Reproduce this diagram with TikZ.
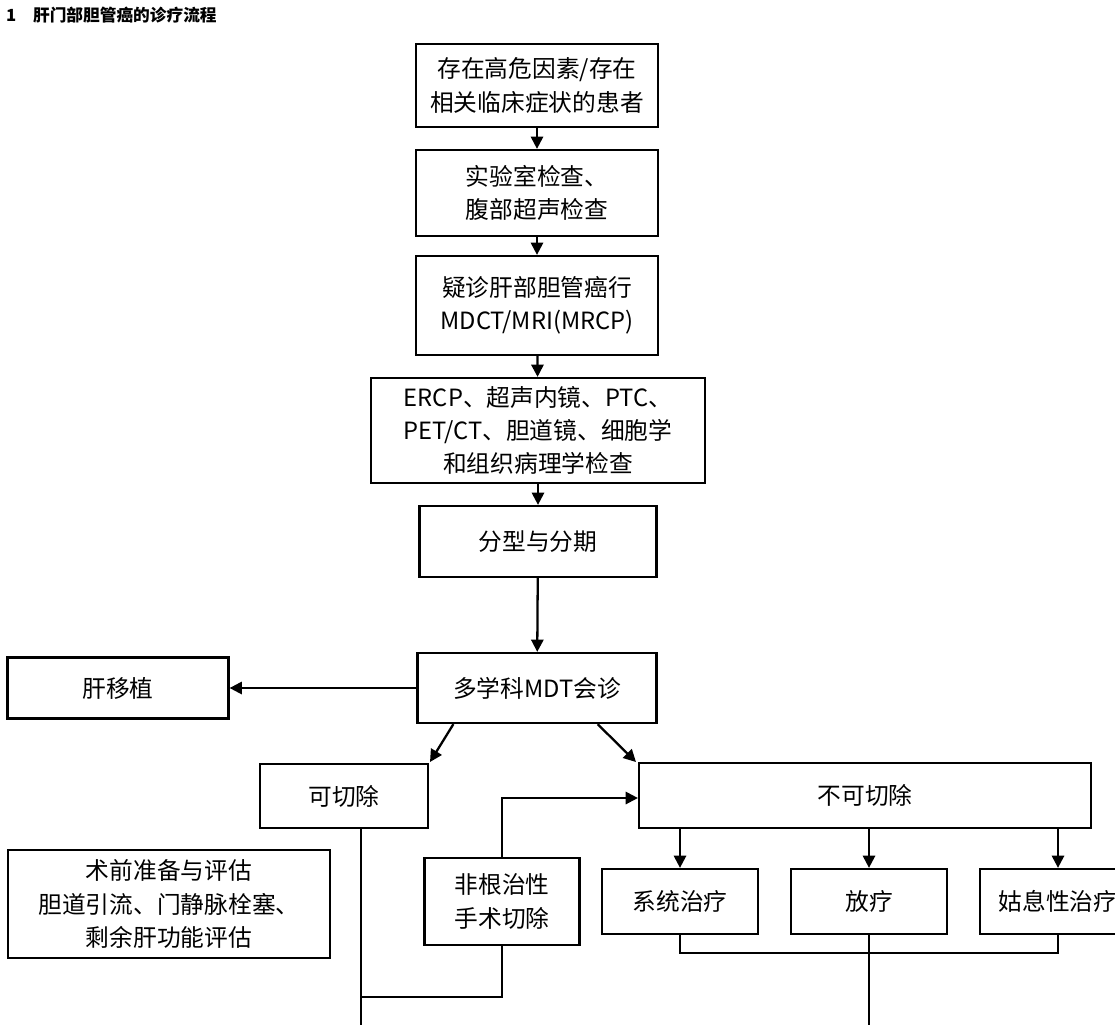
\documentclass[tikz,border=0pt]{standalone}
\usepackage{fontspec}
\setmainfont{Noto Sans CJK SC}
\usetikzlibrary{arrows.meta}
\begin{document}
\begin{tikzpicture}[x=0.02cm,y=-0.02cm,
  box/.style={draw, line width=1.3pt, align=center, inner sep=2pt, font=\fontsize{13.5}{19}\selectfont},
  arr/.style={-{Triangle[length=7pt,width=7pt]}, line width=1.3pt},
  ln/.style={line width=1.3pt}]
\useasboundingbox (0,0) rectangle (1115,1025);
\node[anchor=west, font=\fontsize{9.5}{11}\selectfont\bfseries] (title) at (0,15) {1\quad 肝门部胆管癌的诊疗流程};
% main column
\node[box, minimum width=4.84cm, minimum height=1.66cm] (risk) at (537,85.5) {存在高危因素/存在\\相关临床症状的患者};
\node[box, minimum width=4.84cm, minimum height=1.72cm] (lab) at (537,193) {实验室检查、\\腹部超声检查};
\node[box, minimum width=4.84cm, minimum height=1.98cm] (mdct) at (537,305.5) {疑诊肝部胆管癌行\\MDCT/MRI(MRCP)};
\node[box, minimum width=6.68cm, minimum height=2.1cm] (ercp) at (538,430.5) {ERCP、超声内镜、PTC、\\PET/CT、胆道镜、细胞学\\和组织病理学检查};
\node[box, minimum width=4.74cm, minimum height=1.42cm] (stage) at (538,541.5) {分型与分期};
\node[box, minimum width=4.78cm, minimum height=1.4cm] (mdt) at (537,688) {多学科MDT会诊};
\node[box, minimum width=4.42cm, minimum height=1.22cm] (liver) at (118,688) {肝移植};
% resectable / unresectable
\node[box, minimum width=3.36cm, minimum height=1.28cm] (res) at (344,796) {可切除};
\node[box, minimum width=9.04cm, minimum height=1.3cm] (unres) at (865,795.5) {不可切除};
\node[box, minimum width=6.44cm, minimum height=2.16cm] (prep) at (169,904) {术前准备与评估\\胆道引流、门静脉栓塞、\\剩余肝功能评估};
\node[box, minimum width=3.1cm, minimum height=1.74cm] (nonrad) at (502,901.5) {非根治性\\手术切除};
\node[box, minimum width=3.12cm, minimum height=1.3cm] (sys) at (680,901.5) {系统治疗};
\node[box, minimum width=3.12cm, minimum height=1.3cm] (radio) at (869,901.5) {放疗};
\node[box, minimum width=3.12cm, minimum height=1.3cm] (pall) at (1058,901.5) {姑息性治疗};
% connectors
\draw[arr] (risk) -- (lab);
\draw[arr] (lab) -- (mdct);
\draw[arr] (mdct) -- (ercp);
\draw[arr] (ercp) -- (stage);
\draw[arr] (stage) -- (mdt);
\draw[arr] (mdt) -- (liver);
\draw[arr] (mdt.south west)++(37,0) -- (430,762);
\draw[arr] (mdt.south east)++(-60,0) -- (636,762);
\draw[arr] (unres.south -| sys) -- (sys);
\draw[arr] (unres.south -| radio) -- (radio);
\draw[arr] (unres.south -| pall) -- (pall);
\draw[arr] (nonrad.north) |- (unres.west |- 0,798);
\draw[ln] (res.south -| 361,0) -- (361,1025);
\draw[ln] (nonrad.south) |- (361,997);
\draw[ln] (sys.south) |- (pall.south |- 0,953) -- (pall.south);
\draw[ln] (radio.south) -- (869,1025);
\end{tikzpicture}
\end{document}
